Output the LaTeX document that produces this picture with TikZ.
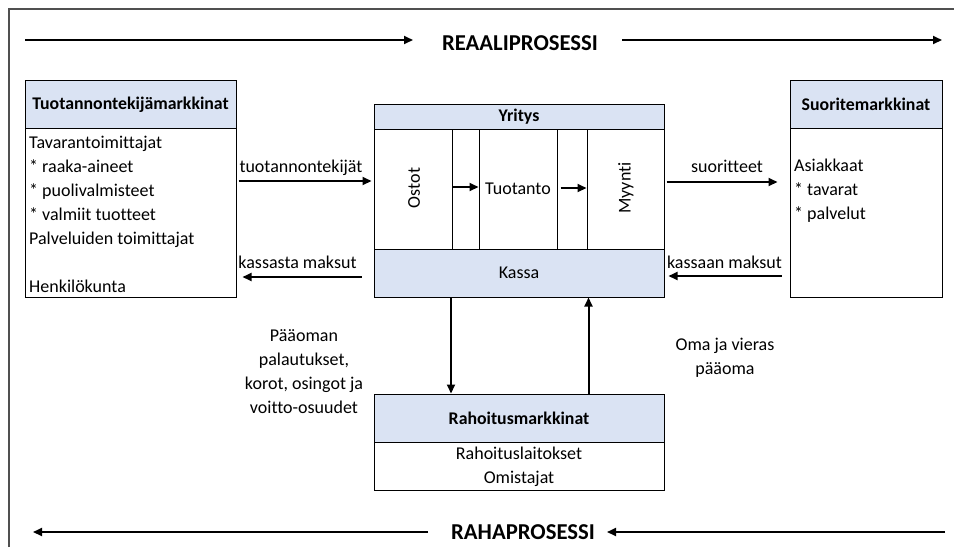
\documentclass[tikz,border=0pt]{standalone}
\usepackage{fontspec}
\setmainfont{Carlito}[Ligatures={NoCommon}]
\usetikzlibrary{arrows.meta}
\definecolor{hdrblue}{HTML}{DAE3F3}
\definecolor{framegray}{HTML}{505050}
\begin{document}
\begin{tikzpicture}[x=1pt,y=-1pt,
  every node/.style={font=\fontsize{18}{24}\selectfont, inner sep=0pt},
  hdr/.style={draw=black, fill=hdrblue, line width=1pt, font=\fontsize{17.8}{24}\selectfont\bfseries},
  bodybox/.style={draw=black, fill=white, line width=1pt},
  arr/.style={line width=2pt, -{Triangle[length=9pt,width=8pt]}},
  bigtitle/.style={font=\fontsize{22.7}{26}\selectfont\bfseries},
  itemtext/.style={anchor=base west},
  lbl/.style={anchor=base},
]
\useasboundingbox (0,0) rectangle (954,547);
% outer frame
\draw[framegray, line width=1.5pt] (9,547) -- (9,9) -- (954,9);

% ---------- left box
\node[hdr, minimum width=211pt, minimum height=48pt] (Lh) at (130.5,104.5) {Tuotannontekijämarkkinat};
\node[bodybox, minimum width=211pt, minimum height=169pt] (Lb) at (130.5,212.5) {};
\node[itemtext] (l1) at (29,148) {Tavarantoimittajat};
\node[itemtext] (l2) at (29,172) {* raaka-aineet};
\node[itemtext] (l3) at (29,196) {* puolivalmisteet};
\node[itemtext] (l4) at (29,220) {* valmiit tuotteet};
\node[itemtext] (l5) at (29,244) {Palveluiden toimittajat};
\node[itemtext] (l6) at (29,292) {Henkilökunta};

% ---------- right box
\node[hdr, minimum width=152pt, minimum height=48pt] (Rh) at (866,104.5) {Suoritemarkkinat};
\node[bodybox, minimum width=152pt, minimum height=169pt] (Rb) at (866,212.5) {};
\node[itemtext] (r1) at (794,171) {Asiakkaat};
\node[itemtext] (r2) at (794,195) {* tavarat};
\node[itemtext] (r3) at (794,219) {* palvelut};

% ---------- centre box
\node[hdr, minimum width=290pt, minimum height=25pt] (Yh) at (519,116.5) {Yritys};
\node[bodybox, minimum width=78pt, minimum height=120pt] (c1) at (413,189) {};
\node[bodybox, minimum width=27pt, minimum height=120pt] (s1) at (465.5,189) {};
\node[bodybox, minimum width=78pt, minimum height=120pt] (c2) at (518,189) {Tuotanto};
\node[bodybox, minimum width=30pt, minimum height=120pt] (s2) at (572,189) {};
\node[bodybox, minimum width=77pt, minimum height=120pt] (c3) at (625.5,189) {};
\node[rotate=90] (ostot) at (414,188) {Ostot};
\node[rotate=90] (myynti) at (626,188) {Myynti};
\node[draw=black, fill=hdrblue, line width=1pt, minimum width=290pt, minimum height=48pt] (K) at (519,273) {Kassa};
\draw[arr] ([yshift=2pt]c1.east) -- ([yshift=2pt]c2.west);
\draw[arr] ([xshift=3pt,yshift=1pt]c2.east) -- ([yshift=1pt]c3.west);

% ---------- bottom box
\node[hdr, minimum width=290pt, minimum height=48pt] (Fh) at (519,418) {Rahoitusmarkkinat};
\node[bodybox, minimum width=290pt, minimum height=48pt] (Fb) at (519,466) {};
\node[lbl] (f1) at (519,459) {Rahoituslaitokset};
\node[lbl] (f2) at (519,483) {Omistajat};

% ---------- connectors
\draw[arr] ([xshift=2pt,yshift=31.5pt]Lb.east) -- ([xshift=-2pt,yshift=8pt]c1.west);
\node[lbl] (tlab) at (301,172) {tuotannontekijät};
\draw[arr] ([xshift=-12pt,yshift=-4pt]K.west) -- ([xshift=6pt,yshift=-64.5pt]Lb.east);
\node[lbl] (klab) at (297.5,268) {kassasta maksut};
\draw[arr] ([xshift=2pt,yshift=7pt]c3.east) -- ([xshift=-12pt,yshift=30.5pt]Rb.west);
\node[lbl] (slab) at (727,172) {suoritteet};
\draw[arr] ([xshift=-8pt,yshift=-63.5pt]Rb.west) -- ([xshift=4pt,yshift=-3pt]K.east);
\node[lbl] (kmlab) at (724.5,268) {kassaan maksut};
\draw[arr] ([xshift=-68pt]K.south) -- ([xshift=-68pt]Fh.north);
\draw[arr] ([xshift=69.5pt]Fh.north) -- ([xshift=69.5pt]K.south);
\node[align=center] (plab) at (304,371.5) {Pääoman\\palautukset,\\korot, osingot ja\\voitto-osuudet};
\node[align=center] (olab) at (725,357.5) {Oma ja vieras\\pääoma};

% ---------- process arrows
\node[bigtitle] (real) at (520,43) {REAALIPROSESSI};
\coordinate (ra1) at (25,40);
\coordinate (ra2) at (413,40);
\coordinate (ra3) at (622,40);
\coordinate (ra4) at (942,40);
\draw[arr] (ra1) -- (ra2);
\draw[arr] (ra3) -- (ra4);
\node[bigtitle] (raha) at (523,532) {RAHAPROSESSI};
\coordinate (rb1) at (428,532);
\coordinate (rb2) at (33,532);
\coordinate (rb3) at (945,532);
\coordinate (rb4) at (607,532);
\draw[arr] (rb1) -- (rb2);
\draw[arr] (rb3) -- (rb4);
\end{tikzpicture}
\end{document}
